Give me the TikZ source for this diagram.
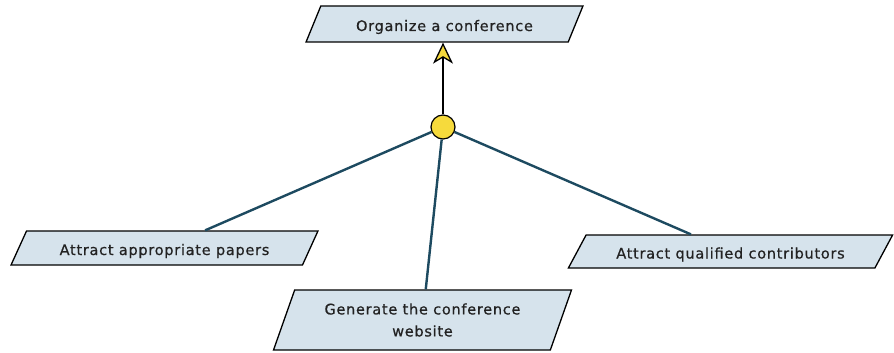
\documentclass[tikz,border=0pt]{standalone}
\usepackage{fontspec}
\setmainfont{DejaVu Sans}[LetterSpace=5, FakeBold=0.6]
\usepackage{tikz}
\usetikzlibrary{shapes.geometric, arrows.meta}

\definecolor{goalfill}{HTML}{D6E3EC}
\definecolor{linkcol}{HTML}{1D4A60}
\definecolor{andfill}{HTML}{F6DA3C}
\definecolor{goaltext}{HTML}{222222}

\begin{document}
\begin{tikzpicture}[x=1pt, y=-1pt,
goalnode/.style={trapezium, trapezium stretches=true, trapezium left angle=50, trapezium right angle=130,
  draw=black, fill=goalfill, line width=1.3pt, inner sep=0pt, align=center, text=goaltext,
  font=\fontsize{14.5}{22}\selectfont},
oneline/.style={text height=14pt, text depth=0pt},
andnode/.style={circle, draw=black, fill=andfill, line width=1.2pt, minimum size=24pt, inner sep=0pt},
link/.style={draw=linkcol, line width=2.4pt},
]
\useasboundingbox (0,0) rectangle (894,353);

%Nodes
\node[goalnode, oneline, minimum width=277pt, minimum height=36pt, trapezium left angle=53, trapezium right angle=127] (conference) at (444.5,24) {Organize a conference};
\node[andnode] (decomp) at (443,127) {};
\node[goalnode, oneline, minimum width=307pt, minimum height=34pt] (papers) at (164.5,248) {Attract appropriate papers};
\node[goalnode, minimum width=299pt, minimum height=60pt, trapezium left angle=64, trapezium right angle=116] (website) at (422.5,320) {Generate the conference\\website};
\node[goalnode, oneline, minimum width=325pt, minimum height=33pt, trapezium left angle=45, trapezium right angle=135] (contributors) at (730.5,251.5) {Attract qualified contributors};

%Lines
\draw[link] (decomp) -- (papers);
\draw[link] (decomp) -- (website);
\draw[link] (decomp) -- (contributors);
\draw[line width=1.3pt, -{Stealth[length=21pt, width=20pt, inset=6pt, fill=andfill]}] (decomp.north) -- (decomp |- conference.south);
\end{tikzpicture}
\end{document}
